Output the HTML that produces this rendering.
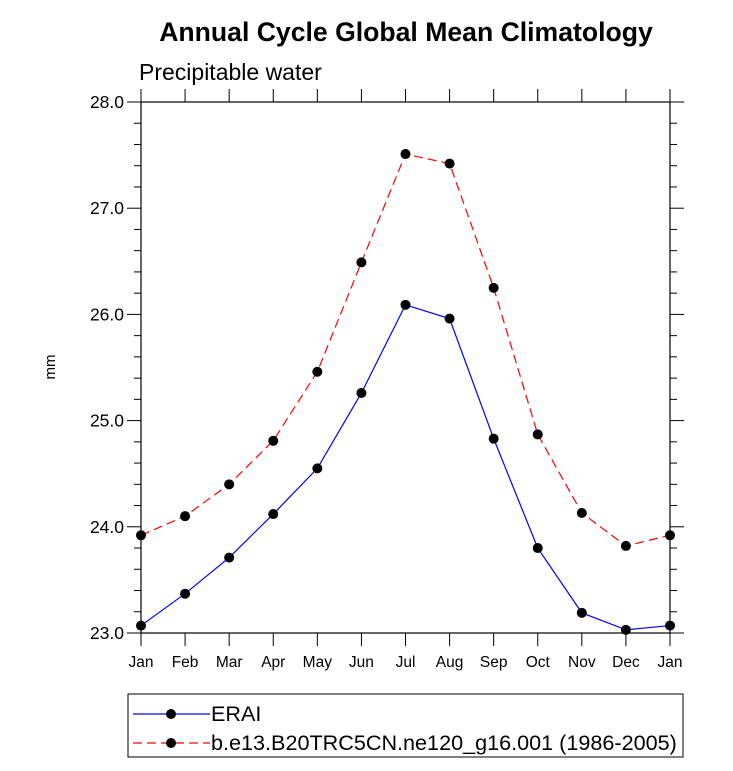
<!DOCTYPE html>
<html><head><meta charset="utf-8"><style>body{margin:0;background:#fff}svg{display:block}text{font-family:"Liberation Sans",sans-serif}</style></head>
<body>
<svg id="c" width="733" height="771">
<text x="406" y="41" text-anchor="middle" font-size="26.6" font-weight="bold">Annual Cycle Global Mean Climatology</text>
<text x="139" y="80" font-size="23">Precipitable water</text>
<text x="55" y="367" font-size="15" text-anchor="middle" transform="rotate(-90 55 367)">mm</text>
<g id="axes"></g><g id="series"></g>
<g>
<rect x="128" y="694" width="555" height="63" fill="none" stroke="#000"/>
<line x1="133" y1="714" x2="210" y2="714" stroke="#00f" stroke-width="1.2"/>
<circle cx="171" cy="714" r="5" fill="#000"/>
<text x="211" y="721" font-size="21.6">ERAI</text>
<line x1="133" y1="743" x2="210" y2="743" stroke="#f00" stroke-width="1.2" stroke-dasharray="9,5"/>
<circle cx="171" cy="743" r="5" fill="#000"/>
<text x="211" y="750" font-size="21.6">b.e13.B20TRC5CN.ne120_g16.001 (1986-2005)</text>
</g>
</svg>
<script>
const months=["Jan","Feb","Mar","Apr","May","Jun","Jul","Aug","Sep","Oct","Nov","Dec","Jan"];
const erai=[23.07,23.37,23.71,24.12,24.55,25.26,26.09,25.96,24.83,23.80,23.19,23.03,23.07];
const model=[23.92,24.10,24.40,24.81,25.46,26.49,27.51,27.42,26.25,24.87,24.13,23.82,23.92];
const yTicks=[23,24,25,26,27,28];
const yTickLabels=["23.0","24.0","25.0","26.0","27.0","28.0"];
const X0=141,X1=670,Y0=102,Y1=633,ymin=23,ymax=28;
const NS="http://www.w3.org/2000/svg";
const xs=i=>X0+(X1-X0)*i/12, ys=v=>Y1-(v-ymin)/(ymax-ymin)*(Y1-Y0);
function mk(t,a,p){const e=document.createElementNS(NS,t);for(const k in a)e.setAttribute(k,a[k]);p.appendChild(e);return e;}
const ax=document.getElementById('axes'),se=document.getElementById('series');
const fr=mk('rect',{x:X0,y:Y0,width:X1-X0,height:Y1-Y0,fill:'none',stroke:'#000','stroke-width':1.2},ax);


for(let v=23;v<=28.001;v+=0.2){const y=ys(v);const maj=Math.abs(v-Math.round(v))<1e-6;const L=maj?14:7;
mk('line',{x1:X0-L,y1:y,x2:X0,y2:y,stroke:'#000'},ax);mk('line',{x1:X1,y1:y,x2:X1+L,y2:y,stroke:'#000'},ax);}
yTicks.forEach((v,i)=>{const t=mk('text',{x:X0-17,y:ys(v)+6,'text-anchor':'end','font-size':17.5},ax);t.textContent=yTickLabels[i];

});
months.forEach((m,i)=>{const x=xs(i);mk('line',{x1:x,y1:Y1,x2:x,y2:Y1+13,stroke:'#000'},ax);mk('line',{x1:x,y1:Y0-13,x2:x,y2:Y0,stroke:'#000'},ax);
const t=mk('text',{x:x,y:Y1+34,'text-anchor':'middle','font-size':15.5},ax);t.textContent=m;

});
function draw(d,col,dash,name){const p=mk('polyline',{points:d.map((v,i)=>xs(i)+','+ys(v)).join(' '),fill:'none',stroke:col,'stroke-width':1.2,'stroke-dasharray':dash},se);


d.forEach((v,i)=>{const c=mk('circle',{cx:xs(i),cy:ys(v),r:5,fill:'#000'},se);

});}
draw(model,'#f00','9,5','model');
draw(erai,'#00f','none','erai');
</script>
</body></html>
